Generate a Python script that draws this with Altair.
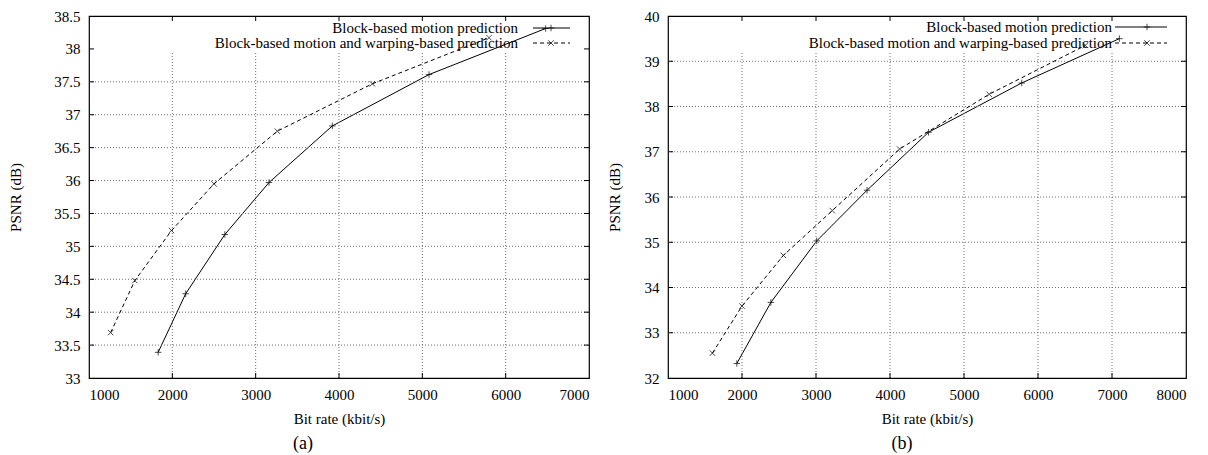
import altair as alt
import pandas as pd

# ---------------- data ----------------
a_block_x = [1830, 2160, 2630, 3160, 3920, 5080, 6480]
a_block_y = [33.39, 34.28, 35.18, 35.97, 36.83, 37.61, 38.31]
a_warp_x = [1260, 1550, 1990, 2500, 3260, 4400, 5800]
a_warp_y = [33.69, 34.48, 35.24, 35.95, 36.75, 37.47, 38.17]

b_block_x = [1930, 2390, 3010, 3690, 4520, 5780, 7100]
b_block_y = [32.32, 33.67, 35.03, 36.15, 37.43, 38.52, 39.50]
b_warp_x = [1600, 2000, 2560, 3220, 4130, 5340, 6640]
b_warp_y = [32.55, 33.59, 34.71, 35.70, 37.06, 38.27, 39.35]

a_x_ticks = [1000, 2000, 3000, 4000, 5000, 6000, 7000]
a_y_ticks = [33, 33.5, 34, 34.5, 35, 35.5, 36, 36.5, 37, 37.5, 38, 38.5]
a_hgrid = [33.5, 34, 34.5, 35, 35.5, 36, 36.5, 37, 37.5]
b_x_ticks = [1000, 2000, 3000, 4000, 5000, 6000, 7000, 8000]
b_y_ticks = [32, 33, 34, 35, 36, 37, 38, 39, 40]
b_hgrid = [33, 34, 35, 36, 37, 38, 39]

series_names = ["Block-based motion prediction",
                "Block-based motion and warping-based prediction"]
x_title = "Bit rate (kbit/s)"
y_title = "PSNR (dB)"

FONT = "Liberation Serif"
FS = 15
PLUS = "M-1,0L1,0M0,-1L0,1"
CROSS = "M-1,-1L1,1M-1,1L1,-1"
GRID_COLOR = "#707070"


def panel(bx, by, wx, wy, xt, yt, hgrid, W, H, ypad, leg, caption, cap_dx):
    xdom = [xt[0], xt[-1]]
    ydom = [yt[0], yt[-1]]
    xs = alt.Scale(domain=xdom, nice=False, zero=False)
    ys = alt.Scale(domain=ydom, nice=False, zero=False)

    common = dict(grid=False, ticks=False, domain=False,
                  labelFont=FONT, titleFont=FONT, labelFontSize=FS, titleFontSize=FS,
                  titleFontWeight="normal", labelColor="black", titleColor="black")
    xaxis = alt.Axis(values=xt, format="d", title=x_title, labelPadding=9,
                     titlePadding=9, **common)
    yaxis = alt.Axis(values=yt, format="~g", title=y_title, labelPadding=9,
                     titlePadding=ypad, **common)

    def X(f):
        return alt.X(f, scale=xs, axis=xaxis)

    def Y(f):
        return alt.Y(f, scale=ys, axis=yaxis)

    df_b = pd.DataFrame({"x": bx, "y": by})
    df_w = pd.DataFrame({"x": wx, "y": wy})
    xin = pd.DataFrame({"v": xt[1:-1]})
    yin = pd.DataFrame({"v": yt[1:-1]})
    hg = pd.DataFrame({"v": hgrid})

    line_b = alt.Chart(df_b).mark_line(color="black", strokeWidth=1).encode(
        x=X("x:Q"), y=Y("y:Q"))
    pts_b = alt.Chart(df_b).mark_point(shape=PLUS, size=42, filled=False,
                                       color="black", strokeWidth=1).encode(
        x=X("x:Q"), y=Y("y:Q"))
    line_w = alt.Chart(df_w).mark_line(color="black", strokeWidth=1,
                                       strokeDash=[4, 3]).encode(
        x=X("x:Q"), y=Y("y:Q"))
    pts_w = alt.Chart(df_w).mark_point(shape=CROSS, size=30, filled=False,
                                       color="black", strokeWidth=1).encode(
        x=X("x:Q"), y=Y("y:Q"))

    grid_style = dict(color=GRID_COLOR, strokeDash=[1, 2], strokeWidth=1)
    vgrid = alt.Chart(xin).mark_rule(**grid_style).encode(
        x=X("v:Q"), y=alt.value(37), y2=alt.value(H))
    hgridc = alt.Chart(hg).mark_rule(**grid_style).encode(
        y=Y("v:Q"), x=alt.value(0), x2=alt.value(W))

    tk = dict(color="black", strokeWidth=1)
    t_bot = alt.Chart(xin).mark_rule(**tk).encode(
        x=X("v:Q"), y=alt.value(H), y2=alt.value(H - 5))
    t_top = alt.Chart(xin).mark_rule(**tk).encode(
        x=X("v:Q"), y=alt.value(0), y2=alt.value(5))
    t_lft = alt.Chart(yin).mark_rule(**tk).encode(
        y=Y("v:Q"), x=alt.value(0), x2=alt.value(5))
    t_rgt = alt.Chart(yin).mark_rule(**tk).encode(
        y=Y("v:Q"), x=alt.value(W), x2=alt.value(W - 5))

    # legend (key)
    tx, l0, l1, mk, r1, r2 = leg
    one = alt.Data(values=[{}])
    legend_layers = []
    for i, (name, ry) in enumerate(zip(series_names, [r1, r2])):
        legend_layers.append(alt.Chart(one).mark_text(
            text=name, align="right", baseline="middle", font=FONT, fontSize=FS,
            color="black").encode(x=alt.value(tx), y=alt.value(ry)))
        rule_kw = dict(color="black", strokeWidth=1)
        if i == 1:
            rule_kw["strokeDash"] = [4, 3]
        legend_layers.append(alt.Chart(one).mark_rule(**rule_kw).encode(
            x=alt.value(l0), x2=alt.value(l1), y=alt.value(ry)))
        legend_layers.append(alt.Chart(one).mark_point(
            shape=PLUS if i == 0 else CROSS, size=42 if i == 0 else 30,
            filled=False, color="black", strokeWidth=1).encode(
            x=alt.value(mk), y=alt.value(ry)))

    ch = alt.layer(line_b, vgrid, hgridc, t_bot, t_top, t_lft, t_rgt,
                   line_w, pts_b, pts_w, *legend_layers).properties(
        width=W, height=H,
        title=alt.TitleParams(caption, orient="bottom", font=FONT, fontSize=18,
                              fontWeight="normal", color="black", dx=cap_dx,
                              offset=9))
    return ch


left = panel(a_block_x, a_block_y, a_warp_x, a_warp_y, a_x_ticks, a_y_ticks,
             a_hgrid, 500, 362, 30, (429, 444, 481, 462, 12, 27), "(a)", -36)
right = panel(b_block_x, b_block_y, b_warp_x, b_warp_y, b_x_ticks, b_y_ticks,
              b_hgrid, 518, 362, 22, (444, 447, 499, 479, 11, 27), "(b)", -25)

chart = alt.hconcat(left, right, spacing=15).properties(
    padding={"left": 0, "top": 0, "right": 0, "bottom": 0},
    background="white",
).configure_view(stroke="black", strokeWidth=1.2).configure_axis(
    grid=False, ticks=False, domain=False,
    labelFont=FONT, titleFont=FONT, labelFontSize=FS, titleFontSize=FS,
    titleFontWeight="normal", labelColor="black", titleColor="black",
)

chart.save("out.html", embed_options={"renderer": "svg", "actions": False})
